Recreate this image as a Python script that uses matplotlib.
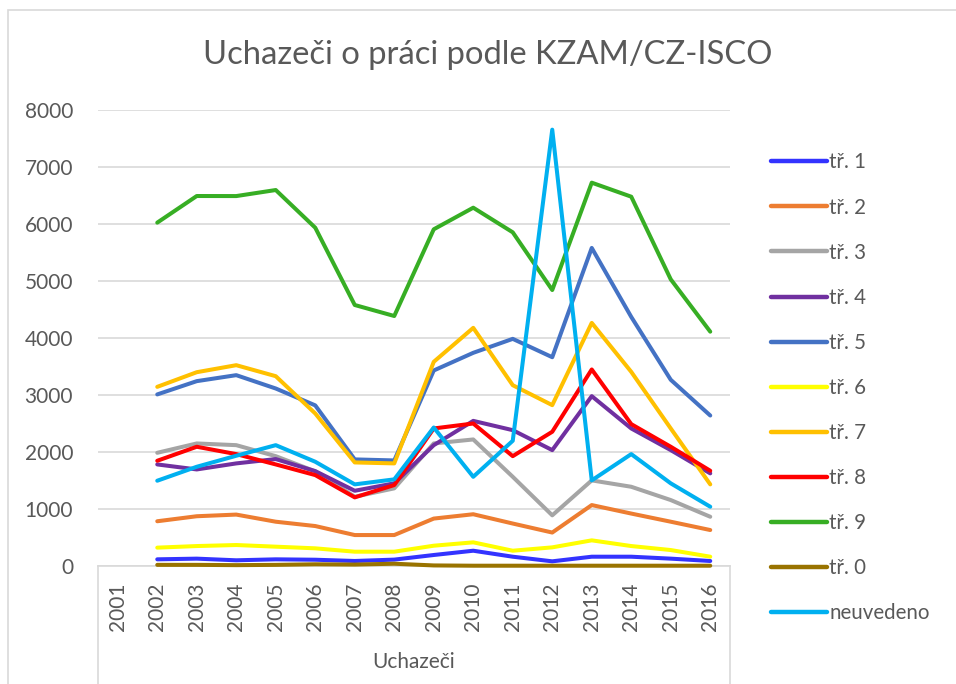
import numpy as np
import matplotlib
matplotlib.use("Agg")
import matplotlib.pyplot as plt
from matplotlib.lines import Line2D
from matplotlib.patches import Rectangle

plt.rcParams["font.family"] = ["Lato", "DejaVu Sans"]

years = [str(y) for y in range(2001, 2017)]
nan = np.nan

tr1 = [nan, 117, 129, 100, 117, 110, 88, 112, 193, 268, 163, 82, 163, 163, 129, 88]
tr2 = [nan, 785, 873, 902, 777, 701, 543, 543, 832, 908, 745, 587, 1069, 920, 777, 631]
tr3 = [nan, 1986, 2150, 2120, 1927, 1660, 1215, 1362, 2150, 2220, 1565, 889, 1502, 1390, 1157, 864]
tr4 = [nan, 1782, 1694, 1800, 1876, 1665, 1320, 1450, 2120, 2546, 2383, 2033, 2980, 2413, 2033, 1625]
tr5 = [nan, 3010, 3243, 3348, 3114, 2818, 1870, 1852, 3430, 3740, 3985, 3663, 5580, 4370, 3267, 2640]
tr6 = [nan, 322, 350, 368, 339, 310, 251, 251, 356, 415, 268, 327, 450, 350, 280, 163]
tr7 = [nan, 3143, 3400, 3523, 3330, 2676, 1817, 1800, 3582, 4178, 3172, 2822, 4265, 3406, 2413, 1432]
tr8 = [nan, 1846, 2092, 1963, 1782, 1595, 1204, 1420, 2413, 2500, 1927, 2355, 3448, 2489, 2092, 1671]
tr9 = [nan, 6024, 6491, 6490, 6596, 5935, 4579, 4386, 5907, 6286, 5854, 4842, 6725, 6479, 5029, 4111]
tr0 = [nan, 20, 20, 15, 20, 30, 25, 40, 10, 5, 5, 5, 5, 5, 5, 5]
neuvedeno = [nan, 1496, 1741, 1934, 2120, 1829, 1432, 1520, 2430, 1565, 2197, 7655, 1502, 1963, 1450, 1040]

series = [
    ("tř. 1", tr1, "#3333FF"),
    ("tř. 2", tr2, "#ED7D31"),
    ("tř. 3", tr3, "#A5A5A5"),
    ("tř. 4", tr4, "#7030A0"),
    ("tř. 5", tr5, "#4472C4"),
    ("tř. 6", tr6, "#FFFF00"),
    ("tř. 7", tr7, "#FFC000"),
    ("tř. 8", tr8, "#FF0000"),
    ("tř. 9", tr9, "#37AE24"),
    ("tř. 0", tr0, "#997300"),
    ("neuvedeno", neuvedeno, "#00B0F0"),
]

W, H = 956, 684
fig = plt.figure(figsize=(W / 100, H / 100), dpi=100)
fig.patches.append(Rectangle((8 / W, -0.05), 1.1, (H - 10) / H + 0.05,
                             transform=fig.transFigure, fill=False,
                             edgecolor="#D9D9D9", lw=1.2, zorder=0))

ax = fig.add_axes([98 / W, (H - 566) / H, (730 - 98) / W, (566 - 110) / H])
x = np.arange(len(years))
for name, vals, col in series:
    ax.plot(x, vals, color=col, lw=2.9, label=name, clip_on=False,
            solid_joinstyle="round", solid_capstyle="round")

ax.set_xlim(-0.5, len(years) - 0.5)
ax.set_ylim(0, 8000)
ax.set_yticks(range(0, 8001, 1000))
ax.grid(axis="y", color="#D9D9D9", lw=1.2)
ax.set_axisbelow(True)
for s in ["top", "right", "left"]:
    ax.spines[s].set_visible(False)
ax.spines["bottom"].set_color("#D9D9D9")
ax.spines["bottom"].set_linewidth(1.2)
ax.spines["bottom"].set_zorder(0.5)
ax.set_xticks(x)
ax.set_xticklabels(years, rotation=90)
ax.tick_params(axis="both", length=0, colors="#595959", labelsize=15)
ax.tick_params(axis="y", pad=18)
ax.tick_params(axis="x", pad=12)

# multi-level category box
for xp in (98, 730):
    fig.add_artist(Line2D([xp / W, xp / W], [0, (H - 566) / H],
                          color="#D9D9D9", lw=1.2))
fig.text(414 / W, (H - 662) / H, "Uchazeči", ha="center", va="center",
         color="#595959", fontsize=15)

fig.text(488 / W, (H - 55) / H, "Uchazeči o práci podle KZAM/CZ-ISCO",
         ha="center", va="center", color="#595959", fontsize=23.6)

leg = fig.legend(loc="upper left", bbox_to_anchor=(752 / W, (H - 134) / H),
                 frameon=False, fontsize=14.8, handlelength=2.75,
                 handletextpad=0.12, labelspacing=1.22, labelcolor="#595959")
for h in leg.get_lines():
    h.set_linewidth(3.2)

fig.savefig("out.png", dpi=100)
